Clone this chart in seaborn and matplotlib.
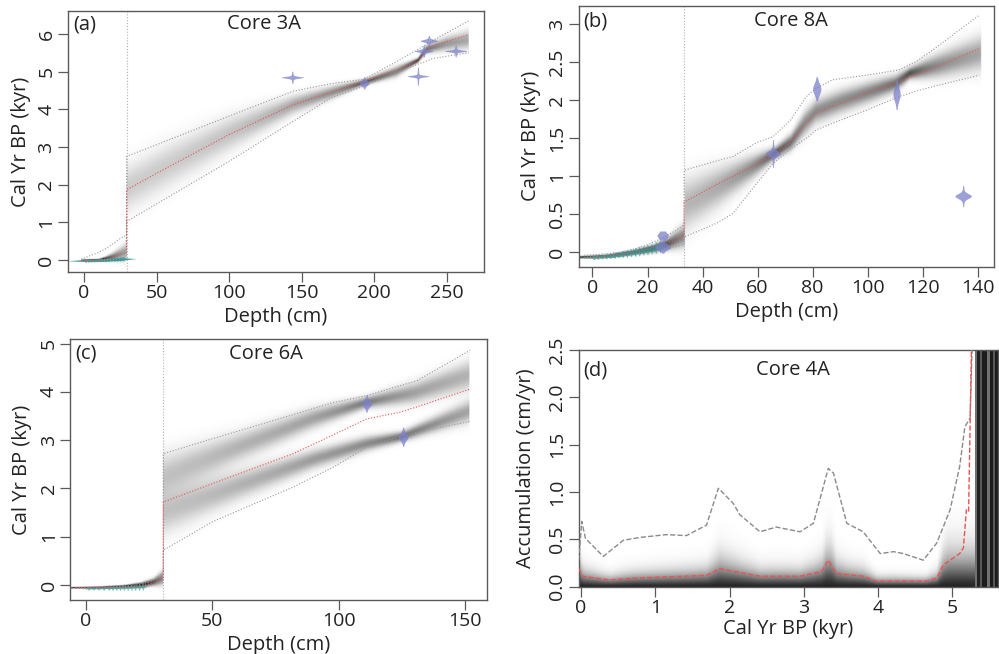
import numpy as np
import matplotlib
matplotlib.use("Agg")
import matplotlib.pyplot as plt
import seaborn as sns
from matplotlib.colors import LinearSegmentedColormap

sns.set_theme(style="white")
plt.rcParams['font.family'] = ['Open Sans', 'DejaVu Sans']

# ---------------- Panel (a) Core 3A ----------------
a_depth = [-2, 10, 15, 20, 25, 29.3, 29.31, 50, 100, 144, 170, 193, 215, 230, 234, 240, 265]
a_median = [-0.02, 0.0, 0.03, 0.08, 0.14, 0.2, 1.86, 2.3, 3.33, 4.12, 4.45, 4.75, 5.04, 5.26, 5.5, 5.68, 5.98]
a_lo = [-0.04, -0.02, 0.0, 0.02, 0.05, 0.08, 1.02, 1.49, 2.62, 3.68, 4.3, 4.62, 4.95, 5.2, 5.25, 5.35, 5.5]
a_hi = [0.02, 0.2, 0.3, 0.43, 0.57, 0.66, 2.75, 3.06, 3.82, 4.48, 4.68, 4.8, 5.26, 5.59, 5.68, 5.82, 6.35]
a_band_depth = [-2, 10, 15, 20, 25, 29.3, 29.31, 60, 100, 144, 175, 193, 215, 230, 236, 250, 265]
a_band_center = [-0.01, 0.0, 0.03, 0.08, 0.15, 0.22, 1.9, 2.55, 3.35, 4.12, 4.5, 4.72, 5.0, 5.3, 5.6, 5.75, 5.85]
a_band_sd = [0.012, 0.015, 0.035, 0.07, 0.11, 0.15, 0.4, 0.38, 0.3, 0.16, 0.1, 0.05, 0.09, 0.04, 0.07, 0.12, 0.16]
a_break = 29.3
a_date_depth = [143.5, 193, 230, 234, 237.5, 256]
a_date_age = [4.85, 4.70, 4.88, 5.55, 5.82, 5.55]
a_date_core = [0.022, 0.06, 0.022, 0.028, 0.03, 0.022]
a_date_err = [0.08, 0.08, 0.12, 0.08, 0.07, 0.08]
a_pb_depth = [1, 3, 5, 7, 9, 11, 13, 15, 17, 19, 21, 23, 25, 27]
a_pb_age = [-0.02, -0.018, -0.015, -0.012, -0.01, -0.005, 0.0, 0.005, 0.01, 0.015, 0.02, 0.025, 0.03, 0.035]
a_pb_err = [0.02, 0.02, 0.02, 0.02, 0.02, 0.02, 0.02, 0.025, 0.025, 0.025, 0.03, 0.03, 0.03, 0.03]

# ---------------- Panel (b) Core 8A ----------------
b_depth = [-3, 5, 10, 15, 20, 25, 30, 33.3, 33.31, 45, 51, 60, 65.6, 72, 77.7, 81.3, 87.3, 99.5, 111.5, 117.6, 123.6, 140.5]
b_median = [-0.06, -0.05, -0.03, 0.0, 0.04, 0.09, 0.16, 0.22, 0.66, 0.89, 1.0, 1.17, 1.28, 1.45, 1.7, 1.83, 1.92, 2.09, 2.25, 2.33, 2.42, 2.68]
b_lo = [-0.08, -0.07, -0.05, -0.03, 0.0, 0.03, 0.07, 0.1, 0.2, 0.38, 0.51, 0.92, 1.17, 1.36, 1.5, 1.61, 1.7, 1.87, 2.05, 2.12, 2.18, 2.33]
b_hi = [-0.04, -0.02, 0.0, 0.04, 0.1, 0.18, 0.28, 0.36, 1.08, 1.2, 1.26, 1.45, 1.52, 1.74, 2.05, 2.16, 2.27, 2.33, 2.40, 2.51, 2.66, 3.12]
b_band_depth = [-5, 5, 15, 22, 27, 33.3, 33.31, 45, 58, 66, 72, 77, 81, 90, 100, 110, 115, 125, 141]
b_band_center = [-0.065, -0.05, 0.0, 0.05, 0.11, 0.22, 0.62, 0.85, 1.12, 1.3, 1.45, 1.7, 1.85, 1.98, 2.1, 2.22, 2.35, 2.45, 2.62]
b_band_sd = [0.01, 0.012, 0.02, 0.03, 0.05, 0.1, 0.22, 0.17, 0.1, 0.05, 0.07, 0.1, 0.1, 0.1, 0.09, 0.07, 0.05, 0.1, 0.15]
b_break = 33.3
b_date_depth = [25.5, 25.5, 65.6, 81.5, 110.5, 134.7]
b_date_age = [0.22, 0.07, 1.30, 2.15, 2.08, 0.74]
b_date_core = [0.07, 0.035, 0.032, 0.07, 0.08, 0.03]
b_date_err = [0.03, 0.04, 0.09, 0.08, 0.10, 0.07]
b_pb_depth = [0.5, 2, 3.5, 5, 6.5, 8, 9.5, 11, 12.5, 14, 15.5, 17, 18.5, 20, 21.5, 23, 24.5]
b_pb_age = [-0.065, -0.06, -0.055, -0.05, -0.045, -0.038, -0.03, -0.022, -0.014, -0.005, 0.005, 0.015, 0.025, 0.035, 0.048, 0.062, 0.08]
b_pb_err = [0.015, 0.015, 0.015, 0.018, 0.018, 0.02, 0.02, 0.022, 0.025, 0.025, 0.028, 0.03, 0.03, 0.033, 0.035, 0.038, 0.04]

# ---------------- Panel (c) Core 6A ----------------
c_depth = [-4, 5, 10, 15, 20, 25, 30.6, 30.61, 50, 82, 97.8, 111, 124.3, 130.9, 152]
c_median = [-0.06, -0.055, -0.05, -0.04, -0.02, 0.02, 0.12, 1.72, 2.1, 2.72, 3.11, 3.44, 3.58, 3.69, 4.06]
c_lo = [-0.07, -0.065, -0.06, -0.05, -0.04, -0.02, 0.05, 0.72, 1.31, 2.03, 2.44, 2.85, 3.09, 3.16, 3.39]
c_hi = [-0.05, -0.045, -0.04, -0.03, 0.0, 0.06, 0.25, 2.72, 3.03, 3.53, 3.78, 3.92, 4.13, 4.23, 4.86]
c_band0_depth = [-6, 5, 15, 22, 27, 30.6]
c_band0_center = [-0.06, -0.05, -0.03, 0.0, 0.06, 0.15]
c_band0_sd = [0.01, 0.01, 0.015, 0.03, 0.05, 0.1]
c_band1_depth = [30.61, 60, 90, 111, 130, 152]
c_band1_center = [2.25, 2.85, 3.45, 3.78, 3.98, 4.35]
c_band1_sd = [0.3, 0.2, 0.14, 0.08, 0.14, 0.2]
c_band2_depth = [30.61, 60, 90, 111, 125, 152]
c_band2_center = [1.5, 2.05, 2.6, 2.92, 3.07, 3.6]
c_band2_sd = [0.3, 0.2, 0.13, 0.1, 0.07, 0.15]
c_break = 30.6
c_date_depth = [111, 125.5]
c_date_age = [3.76, 3.07]
c_date_core = [0.06, 0.07]
c_date_err = [0.09, 0.10]
c_pb_depth = [1, 3, 5, 7, 9, 10.5, 12, 13.5, 15, 16.5, 18, 19.5, 21, 22.5]
c_pb_age = [-0.065, -0.063, -0.06, -0.058, -0.055, -0.053, -0.05, -0.048, -0.045, -0.042, -0.038, -0.034, -0.03, -0.025]
c_pb_err = [0.02, 0.02, 0.022, 0.024, 0.026, 0.028, 0.03, 0.03, 0.032, 0.034, 0.036, 0.038, 0.04, 0.04]

# ---------------- Panel (d) Core 4A accumulation ----------------
d_age = [-0.03, 0.01, 0.06, 0.30, 0.57, 0.79, 1.15, 1.42, 1.69, 1.85, 2.05, 2.14, 2.41, 2.63, 2.95, 3.13,
         3.33, 3.40, 3.58, 3.80, 4.03, 4.21, 4.34, 4.61, 4.79, 4.97, 5.10, 5.17, 5.24, 5.27]
d_upper = [0.28, 0.69, 0.51, 0.32, 0.49, 0.52, 0.55, 0.54, 0.65, 1.04, 0.88, 0.76, 0.58, 0.63, 0.58, 0.67,
           1.25, 1.20, 0.67, 0.58, 0.35, 0.37, 0.35, 0.28, 0.46, 0.81, 1.27, 1.69, 1.78, 2.6]
d_mean_age = [-0.03, 0.02, 0.39, 0.70, 1.38, 1.69, 1.87, 2.14, 2.41, 2.95, 3.24, 3.33, 3.44, 3.80, 3.98,
              4.65, 4.79, 4.88, 5.10, 5.15, 5.19, 5.22, 5.26]
d_mean = [0.19, 0.11, 0.07, 0.09, 0.11, 0.12, 0.19, 0.15, 0.11, 0.11, 0.16, 0.28, 0.14, 0.11, 0.06,
          0.06, 0.09, 0.23, 0.35, 0.41, 0.81, 0.79, 2.6]
d_tail_edges = [5.30, 5.33, 5.37, 5.40, 5.47, 5.51, 5.55, 5.58, 5.62]
d_tail_level = [0.6, 0.93, 0.7, 0.95, 0.6, 0.95, 0.7, 0.95]

# ---------------- styling ----------------
W, H = 999, 654
fig = plt.figure(figsize=(W / 100, H / 100), dpi=100)
GREY = LinearSegmentedColormap.from_list('ghost', ['#ffffff', '#111111'])
BLUE = '#7c81c9'
TEAL = '#3a9793'
RED = '#f05050'
BOUND = '#9a9a9a'
AXC = '#5a5a5a'
TXT = '#222222'
FS = 14
DOT = (0, (1, 1.6))


def make_ax(left, right, top, bottom):
    ax = fig.add_axes([left / W, 1 - bottom / H, (right - left) / W, (bottom - top) / H])
    ax._px = (right - left, bottom - top)
    return ax


def style(ax, xlim, ylim, xticks, yticks, ylabels, xlabel, ylabel, xoff, yoff):
    ax.set_xlim(*xlim)
    ax.set_ylim(*ylim)
    ax.set_xticks(xticks)
    ax.set_xticklabels([str(t) for t in xticks])
    ax.set_yticks(yticks)
    ax.set_yticklabels(ylabels, rotation=90, va='center')
    ax.tick_params(bottom=True, left=True, direction='out', length=7, width=0.9, color=AXC,
                   labelsize=FS, labelcolor=TXT, pad=2)
    for s in ax.spines.values():
        s.set_color(AXC)
        s.set_linewidth(1.0)
        s.set_visible(True)
    ax.set_xlabel(xlabel, fontsize=FS + 0.5, color=TXT)
    ax.set_ylabel(ylabel, fontsize=FS + 0.5, color=TXT)
    ax.xaxis.set_label_coords(0.5, -xoff / ax._px[1])
    ax.yaxis.set_label_coords(-yoff / ax._px[0], 0.5)


def ghost(ax, streaks, xlim, ylim, sd_ref=0.03, gamma=0.6, nx=900, ny=700):
    xs = np.linspace(xlim[0], xlim[1], nx)
    ys = np.linspace(ylim[0], ylim[1], ny)
    img = np.zeros((ny, nx))
    for d, c, s in streaks:
        d = np.asarray(d, float)
        cc = np.interp(xs, d, c)
        ss = np.interp(xs, d, s)
        inside = (xs >= d[0]) & (xs <= d[-1])
        z = (ys[:, None] - cc[None, :]) / ss[None, :]
        img += inside[None, :] * (np.clip(sd_ref / ss, 0, 1) ** gamma)[None, :] * np.exp(-0.5 * z ** 2)
    ax.imshow(np.clip(img, 0, 1), extent=[xlim[0], xlim[1], ylim[0], ylim[1]], origin='lower',
              aspect='auto', cmap=GREY, vmin=0, vmax=1, interpolation='bilinear', zorder=1)


def dist(ax, depth, age, core, err, k, spike, color, alpha, z):
    y = np.linspace(age - 2.0 * err, age + 2.0 * err, 300)
    pdf = (0.75 * np.exp(-0.5 * ((y - age) / core) ** 2) / (core * 2.5066)
           + 0.25 * np.exp(-0.5 * ((y - age) / err) ** 2) / (err * 2.5066))
    w = k * pdf + spike
    ax.fill_betweenx(y, depth - w, depth + w, color=color, alpha=alpha, lw=0, zorder=z)


def agedepth(ax, depth, med, lo, hi, streaks, brk, dd, da, dc, de, k, pd_, pa, pe, kpb, spike, xlim, ylim):
    ghost(ax, streaks, xlim, ylim)
    ax.axvline(brk, color='#b0b0b0', lw=0.8, ls=DOT, zorder=2)
    for dpt, age, er in zip(pd_, pa, pe):
        dist(ax, dpt, age, er * 0.4, er, kpb, spike, TEAL, 0.65, 3)
    sns.lineplot(x=depth, y=lo, ax=ax, color=BOUND, lw=0.8, ls=DOT, sort=False, estimator=None, zorder=4)
    sns.lineplot(x=depth, y=hi, ax=ax, color=BOUND, lw=0.8, ls=DOT, sort=False, estimator=None, zorder=4)
    sns.lineplot(x=depth, y=med, ax=ax, color=RED, lw=0.8, ls=DOT, sort=False, estimator=None, zorder=4)
    for dpt, age, c, er in zip(dd, da, dc, de):
        dist(ax, dpt, age, c, er, k, spike, BLUE, 0.75, 5)


def titles(ax, tag, name, xf, yf):
    ax.text(0.012, yf, tag, transform=ax.transAxes, ha='left', va='center', fontsize=FS + 0.5, color=TXT, zorder=10)
    ax.text(xf, yf, name, transform=ax.transAxes, ha='center', va='center', fontsize=FS + 0.5, color=TXT, zorder=10)


# (a)
axa = make_ax(68, 484, 11, 272)
xl, yl = (-11, 275.5), (-0.32, 6.61)
agedepth(axa, a_depth, a_median, a_lo, a_hi,
         [(a_band_depth, a_band_center, a_band_sd)], a_break,
         a_date_depth, a_date_age, a_date_core, a_date_err, 0.5,
         a_pb_depth, a_pb_age, a_pb_err, 0.3, 0.25, xl, yl)
style(axa, xl, yl, [0, 50, 100, 150, 200, 250], [0, 1, 2, 3, 4, 5, 6], ['0', '1', '2', '3', '4', '5', '6'],
      'Depth (cm)', 'Cal Yr BP (kyr)', 35, 37)
titles(axa, '(a)', 'Core 3A', 0.47, 0.95)

# (b)
axb = make_ax(578.7, 994, 5.7, 266.7)
xl, yl = (-5.0, 145.9), (-0.19, 3.245)
agedepth(axb, b_depth, b_median, b_lo, b_hi,
         [(b_band_depth, b_band_center, b_band_sd)], b_break,
         b_date_depth, b_date_age, b_date_core, b_date_err, 0.25,
         b_pb_depth, b_pb_age, b_pb_err, 0.1, 0.13, xl, yl)
style(axb, xl, yl, [0, 20, 40, 60, 80, 100, 120, 140], [0, 0.5, 1, 1.5, 2, 2.5, 3],
      ['0', '0.5', '1', '1.5', '2', '2.5', '3'], 'Depth (cm)', 'Cal Yr BP (kyr)', 35, 38)
titles(axb, '(b)', 'Core 8A', 0.51, 0.94)

# (c)
axc = make_ax(70.3, 487.3, 339.3, 600)
xl, yl = (-6.2, 158.8), (-0.31, 5.09)
agedepth(axc, c_depth, c_median, c_lo, c_hi,
         [(c_band0_depth, c_band0_center, c_band0_sd),
          (c_band1_depth, c_band1_center, c_band1_sd),
          (c_band2_depth, c_band2_center, c_band2_sd)], c_break,
         c_date_depth, c_date_age, c_date_core, c_date_err, 0.33,
         c_pb_depth, c_pb_age, c_pb_err, 0.07, 0.14, xl, yl)
style(axc, xl, yl, [0, 50, 100, 150], [0, 1, 2, 3, 4, 5], ['0', '1', '2', '3', '4', '5'],
      'Depth (cm)', 'Cal Yr BP (kyr)', 35, 38)
titles(axc, '(c)', 'Core 6A', 0.47, 0.944)

# (d)
axd = make_ax(578.7, 998.3, 350, 586.7)
xl, yl = (-0.031, 5.62), (0.0, 2.5)
ages = np.linspace(xl[0], d_tail_edges[0], 800)
rates = np.linspace(0, 2.5, 600)
m = np.interp(ages, d_mean_age, d_mean)
u = np.interp(ages, d_age, d_upper)
theta = np.minimum(1.0 * m + 0.05 * u, 0.3)
img = 0.92 * np.exp(-(rates[:, None] / theta[None, :]) ** 1.5)
axd.imshow(img, extent=[xl[0], d_tail_edges[0], 0, 2.5], origin='lower', aspect='auto', cmap=GREY,
           vmin=0, vmax=1, interpolation='bilinear', zorder=1)
axd.pcolormesh(d_tail_edges, [0, 2.5], np.array([d_tail_level]), cmap=GREY, vmin=0, vmax=1, zorder=1,
               shading='flat')
sns.lineplot(x=d_age, y=d_upper, ax=axd, color='#8a8a8a', lw=1.0, ls='--', sort=False, estimator=None, zorder=4)
sns.lineplot(x=d_mean_age, y=d_mean, ax=axd, color=RED, lw=1.0, ls='--', sort=False, estimator=None, zorder=4)
style(axd, xl, yl, [0, 1, 2, 3, 4, 5], [0, 0.5, 1.0, 1.5, 2.0, 2.5],
      ['0.0', '0.5', '1.0', '1.5', '2.0', '2.5'], 'Cal Yr BP (kyr)', 'Accumulation (cm/yr)', 32, 43)
titles(axd, '(d)', 'Core 4A', 0.51, 0.915)

fig.savefig('out.png', dpi=100)
